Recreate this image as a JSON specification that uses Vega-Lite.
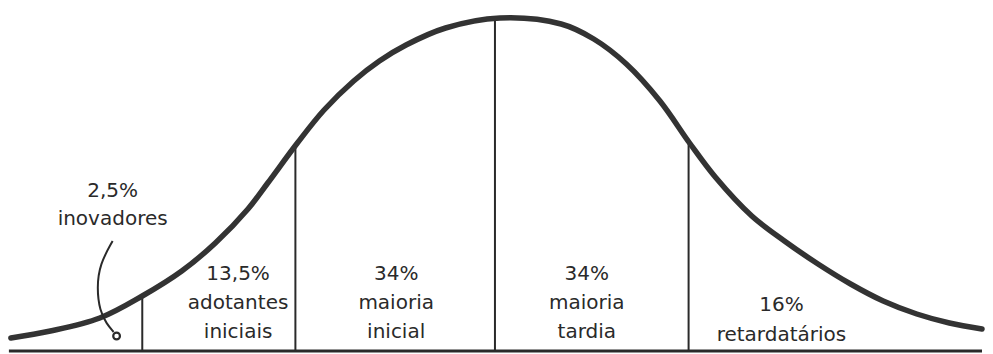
{
  "$schema": "https://vega.github.io/schema/vega-lite/v6.json",
  "width": 993,
  "height": 354,
  "autosize": {"type": "fit", "contains": "padding"},
  "padding": 0,
  "background": "white",
  "config": {"view": {"stroke": null}, "axis": {"disable": true}},
  "datasets": {
    "curve": [
      {"x": 10, "h": 13}, {"x": 50, "h": 20}, {"x": 100, "h": 33}, {"x": 143, "h": 55},
      {"x": 183, "h": 80}, {"x": 217, "h": 108}, {"x": 250, "h": 142}, {"x": 270, "h": 168},
      {"x": 300, "h": 208}, {"x": 327, "h": 241}, {"x": 357, "h": 270}, {"x": 383, "h": 290},
      {"x": 410, "h": 306}, {"x": 450, "h": 323}, {"x": 505, "h": 333}, {"x": 567, "h": 327},
      {"x": 600, "h": 312}, {"x": 633, "h": 287}, {"x": 667, "h": 250}, {"x": 697, "h": 208},
      {"x": 723, "h": 174}, {"x": 760, "h": 135}, {"x": 793, "h": 110}, {"x": 827, "h": 87},
      {"x": 860, "h": 67}, {"x": 893, "h": 50}, {"x": 927, "h": 37}, {"x": 960, "h": 28},
      {"x": 993, "h": 22}
    ],
    "dividers": [
      {"x": 143, "top": 55, "bottom": 0}, {"x": 298, "top": 207, "bottom": 0}, {"x": 500, "top": 333, "bottom": 0}, {"x": 696, "top": 208, "bottom": 0}
    ],
    "labels": [
      {"x": 113, "h": 160, "text": "2,5%"}, {"x": 113, "h": 132, "text": "inovadores"},
      {"x": 240, "h": 77, "text": "13,5%"}, {"x": 240, "h": 48, "text": "adotantes"}, {"x": 240, "h": 19, "text": "iniciais"},
      {"x": 400, "h": 77, "text": "34%"}, {"x": 400, "h": 48, "text": "maioria"}, {"x": 400, "h": 19, "text": "inicial"},
      {"x": 593, "h": 77, "text": "34%"}, {"x": 593, "h": 48, "text": "maioria"}, {"x": 593, "h": 19, "text": "tardia"},
      {"x": 790, "h": 46, "text": "16%"}, {"x": 790, "h": 16, "text": "retardatários"}
    ],
    "leader": [
      {"o": 1, "x": 113, "h": 110}, {"o": 2, "x": 100, "h": 87}, {"o": 3, "x": 97, "h": 63},
      {"o": 4, "x": 100, "h": 40}, {"o": 5, "x": 107, "h": 27}, {"o": 6, "x": 114, "h": 19}
    ],
    "dot": [{"x": 117, "h": 15}],
    "base": [{"x": 8, "x2": 993, "h": 0}]
  },
  "layer": [
    {
      "data": {"name": "base"},
      "mark": {"type": "rule", "strokeWidth": 3, "color": "#2a2a2a"},
      "encoding": {
        "x": {"field": "x", "type": "quantitative", "scale": {"domain": [0, 993], "nice": false, "zero": false}, "axis": null},
        "x2": {"field": "x2"},
        "y": {"field": "h", "type": "quantitative", "scale": {"domain": [-3, 351], "nice": false, "zero": false}, "axis": null}
      }
    },
    {
      "data": {"name": "dividers"},
      "mark": {"type": "rule", "strokeWidth": 2, "color": "#2a2a2a"},
      "encoding": {
        "x": {"field": "x", "type": "quantitative", "axis": null},
        "y": {"field": "bottom", "type": "quantitative", "axis": null},
        "y2": {"field": "top"}
      }
    },
    {
      "data": {"name": "curve"},
      "mark": {"type": "line", "strokeWidth": 5.5, "color": "#333333", "interpolate": "catmull-rom", "strokeCap": "round"},
      "encoding": {
        "x": {"field": "x", "type": "quantitative", "axis": null},
        "y": {"field": "h", "type": "quantitative", "axis": null}
      }
    },
    {
      "data": {"name": "leader"},
      "mark": {"type": "line", "strokeWidth": 2, "color": "#2a2a2a", "interpolate": "basis"},
      "encoding": {
        "x": {"field": "x", "type": "quantitative", "axis": null},
        "y": {"field": "h", "type": "quantitative", "axis": null},
        "order": {"field": "o", "type": "quantitative"}
      }
    },
    {
      "data": {"name": "dot"},
      "mark": {"type": "point", "size": 45, "filled": false, "strokeWidth": 2.2, "color": "#2a2a2a", "opacity": 1},
      "encoding": {
        "x": {"field": "x", "type": "quantitative", "axis": null},
        "y": {"field": "h", "type": "quantitative", "axis": null}
      }
    },
    {
      "data": {"name": "labels"},
      "mark": {"type": "text", "font": "DejaVu Sans", "fontSize": 20, "color": "#2a2a2a", "align": "center", "baseline": "middle"},
      "encoding": {
        "x": {"field": "x", "type": "quantitative", "axis": null},
        "y": {"field": "h", "type": "quantitative", "axis": null},
        "text": {"field": "text"}
      }
    }
  ]
}
